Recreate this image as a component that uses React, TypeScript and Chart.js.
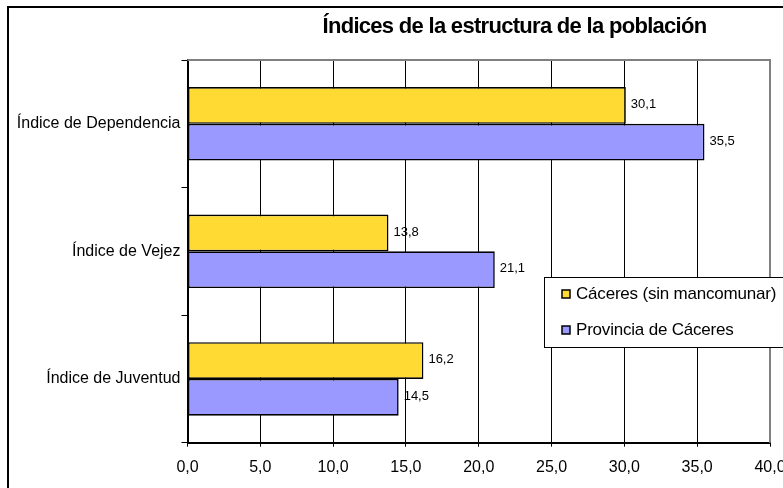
import React, { useEffect, useRef } from 'react';
import { Chart, registerables } from 'chart.js';

Chart.register(...registerables);

const chartTitle = 'Índices de la estructura de la población';
const categories = ['Índice de Dependencia', 'Índice de Vejez', 'Índice de Juventud'];
const seriesNames = ['Cáceres (sin mancomunar)', 'Provincia de Cáceres'];
const caceresValues = [30.1, 13.8, 16.2];
const provinciaValues = [35.5, 21.1, 14.5];
const seriesColors = ['#FFDA33', '#9999FF'];
const xMin = 0;
const xMax = 40;
const xStep = 5;

const FONT = "'Liberation Sans', Arial, sans-serif";
const fmt = (v: number) => v.toFixed(1).replace('.', ',');

const titlePlugin = {
  id: 'customTitle',
  afterDraw(chart: any) {
    const ctx = chart.ctx;
    ctx.save();
    ctx.font = `bold 22px ${FONT}`;
    try { (ctx as any).letterSpacing = '-0.7px'; } catch (e) {}
    ctx.fillStyle = '#000';
    ctx.textAlign = 'center';
    ctx.textBaseline = 'middle';
    ctx.fillText(chartTitle, 506.5, 19);
    ctx.restore();
  },
};

const framePlugin = {
  id: 'plotFrame',
  afterDatasetsDraw(chart: any) {
    const { ctx, chartArea } = chart;
    ctx.save();
    ctx.strokeStyle = '#808080';
    ctx.lineWidth = 2;
    ctx.beginPath();
    ctx.moveTo(chartArea.left, chartArea.top);
    ctx.lineTo(chartArea.right, chartArea.top);
    ctx.lineTo(chartArea.right, chartArea.bottom);
    ctx.stroke();
    ctx.restore();
  },
};

const valueLabelPlugin = {
  id: 'valueLabels',
  afterDatasetsDraw(chart: any) {
    const ctx = chart.ctx;
    ctx.save();
    ctx.font = `13px ${FONT}`;
    ctx.fillStyle = '#000';
    ctx.textAlign = 'left';
    ctx.textBaseline = 'middle';
    chart.data.datasets.forEach((ds: any, di: number) => {
      const meta = chart.getDatasetMeta(di);
      meta.data.forEach((bar: any, i: number) => {
        ctx.fillText(fmt(ds.data[i]), bar.x + 5, bar.y - 1);
      });
    });
    ctx.restore();
  },
};

const legendPlugin = {
  id: 'boxLegend',
  afterDraw(chart: any) {
    const ctx = chart.ctx;
    const left = 536;
    const top = 269;
    const h = 70;
    ctx.save();
    ctx.fillStyle = '#fff';
    ctx.fillRect(left, top, 400, h);
    ctx.strokeStyle = '#000';
    ctx.lineWidth = 1;
    ctx.strokeRect(left + 0.5, top + 0.5, 400, h);
    ctx.font = `17px ${FONT}`;
    try { (ctx as any).letterSpacing = '-0.2px'; } catch (e) {}
    ctx.textAlign = 'left';
    ctx.textBaseline = 'middle';
    chart.data.datasets.forEach((ds: any, i: number) => {
      const cy = top + 17 + i * 36;
      ctx.fillStyle = ds.backgroundColor;
      ctx.fillRect(554, cy - 4, 8, 8);
      ctx.strokeStyle = '#000';
      ctx.lineWidth = 1.5;
      ctx.strokeRect(554, cy - 4, 8, 8);
      ctx.fillStyle = '#000';
      ctx.fillText(ds.label, 568, cy);
    });
    ctx.restore();
  },
};

export default function App() {
  const ref = useRef<HTMLCanvasElement | null>(null);

  useEffect(() => {
    if (!ref.current) return;
    const chart = new Chart(ref.current, {
      type: 'bar',
      data: {
        labels: categories,
        datasets: [
          {
            label: seriesNames[0],
            data: caceresValues,
            backgroundColor: seriesColors[0],
            borderColor: '#000',
            borderWidth: 1.6,
            borderSkipped: false,
            categoryPercentage: 0.576,
            barPercentage: 1,
          },
          {
            label: seriesNames[1],
            data: provinciaValues,
            backgroundColor: seriesColors[1],
            borderColor: '#000',
            borderWidth: 1.6,
            borderSkipped: false,
            categoryPercentage: 0.576,
            barPercentage: 1,
          },
        ],
      },
      options: {
        indexAxis: 'y',
        animation: false,
        responsive: false,
        maintainAspectRatio: false,
        layout: { padding: { top: 52, right: 38, left: 0, bottom: 0 } },
        plugins: {
          legend: { display: false },
          title: { display: false },
          tooltip: { enabled: false },
        },
        scales: {
          x: {
            type: 'linear',
            min: xMin,
            max: xMax,
            ticks: {
              stepSize: xStep,
              callback: (v: any) => fmt(Number(v)),
              font: { family: FONT, size: 16 },
              color: '#000',
              padding: 11,
              maxRotation: 0,
            },
            grid: {
              color: (c: any) => (c.tick && c.tick.value === xMax ? '#808080' : '#000'),
              tickColor: '#000',
              lineWidth: 1,
              tickLength: 4,
            },
            border: { color: '#000', width: 2 },
            afterFit: (scale: any) => {
              scale.height = 45.3;
            },
          },
          y: {
            type: 'category',
            ticks: {
              font: { family: FONT, size: 16 },
              color: '#000',
              padding: 1,
            },
            grid: {
              drawOnChartArea: false,
              color: '#000',
              tickLength: 6,
              offset: true,
            },
            border: { color: '#000', width: 2 },
            afterFit: (scale: any) => {
              scale.width = 179.5;
            },
          },
        },
      },
      plugins: [framePlugin, valueLabelPlugin, legendPlugin, titlePlugin],
    } as any);
    return () => chart.destroy();
  }, []);

  return (
    <div
      style={{
        position: 'fixed',
        left: 0,
        top: 0,
        width: 783,
        height: 488,
        overflow: 'hidden',
        background: '#fff',
      }}
    >
      <div
        style={{
          position: 'absolute',
          left: 7,
          top: 6,
          width: 900,
          height: 600,
          borderLeft: '2px solid #000',
          borderTop: '2px solid #000',
          boxSizing: 'border-box',
        }}
      />
      <canvas
        ref={ref}
        width={800}
        height={480}
        style={{ position: 'absolute', left: 8, top: 8, width: 800, height: 480 }}
      />
    </div>
  );
}
